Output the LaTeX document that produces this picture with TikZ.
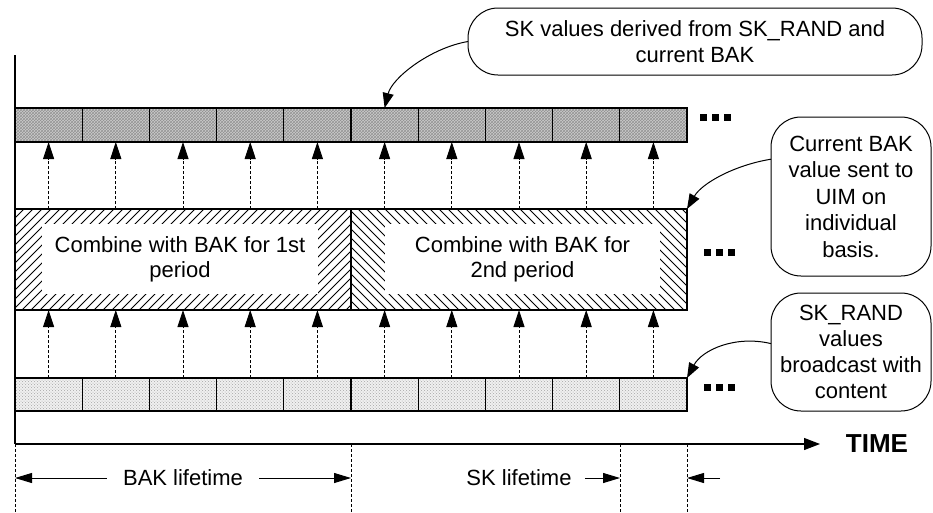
\documentclass[tikz,border=0pt]{standalone}
\usepackage{fontspec}
\setmainfont{Liberation Sans}
\usetikzlibrary{arrows.meta,patterns}
\begin{document}
\begin{tikzpicture}[x=1pt,y=-1pt,
  box/.style={draw,line width=1.1pt,outer sep=0pt,inner sep=0pt},
  skcell/.style={box,minimum width=67.2pt,minimum height=34pt,preaction={fill=gray!40},pattern=crosshatch,pattern color=gray!85},
  srcell/.style={box,minimum width=67.2pt,minimum height=33pt,preaction={fill=gray!12},pattern=crosshatch dots,pattern color=gray!70},
  bakbox/.style={box,minimum width=336pt,minimum height=101pt},
  hatch/.style={line width=1pt},
  txt/.style={font=\fontsize{22}{25}\selectfont,align=center,inner sep=0pt},
  inner/.style={txt,fill=white,minimum width=276pt,minimum height=70pt},
  callout/.style={draw,line width=1pt,rounded corners=30pt,outer sep=0pt,inner sep=0pt,align=center,font=\fontsize{22}{26}\selectfont},
  uparrow/.style={line width=0.9pt,dash pattern=on 3pt off 2pt,-{Triangle[length=17pt,width=11pt]}},
  curvearrow/.style={line width=1pt,-{Triangle[length=15pt,width=11pt]}},
  axis/.style={line width=1.2pt},
  dimdash/.style={line width=0.9pt,dash pattern=on 3pt off 2pt},
  dimarrow/.style={line width=1pt,-{Triangle[length=17pt,width=10pt]}},
  lbl/.style={font=\fontsize{22}{25}\selectfont,inner ysep=0pt}
]
\useasboundingbox (0,0) rectangle (933,512);

% axes
\coordinate (ytop) at (15,55);
\coordinate (o) at (15,444);
\coordinate (xend) at (820,444);
\draw[axis] (ytop) -- (o);
\draw[axis,-{Triangle[length=16pt,width=12pt]}] (o) -- (xend);
\node[font=\fontsize{26}{30}\selectfont\bfseries] (time) at (877,444) {TIME};

% rows of cells
\foreach \i in {1,...,10}{
  \node[skcell] (sk\i) at ({15+67.2*(\i-0.5)},125) {};
  \node[srcell] (sr\i) at ({15+67.2*(\i-0.5)},394.5) {};
}

% BAK boxes: hatching
\begin{scope}
  \clip (15,209) rectangle (351,310);
  \foreach \x in {-95,-86,...,355}{
    \draw[hatch] (\x,310) -- ++(101,-101);
  }
\end{scope}
\begin{scope}
  \clip (351,209) rectangle (687,310);
  \foreach \x in {250,259,...,700}{
    \draw[hatch] (\x,209) -- ++(101,101);
  }
\end{scope}
\node[inner] (bt1) at (180,259) {Combine with BAK for 1st\\period};
\node[inner,minimum width=275pt] (bt2) at (522.5,259) {Combine with BAK for\\2nd period};
\node[bakbox] (bak1) at (183,259.5) {};
\node[bakbox] (bak2) at (519,259.5) {};

% dashed arrows
\foreach \i in {1,...,10}{
  \draw[uparrow] (sk\i.south |- bak1.north) -- (sk\i.south);
  \draw[uparrow] (sr\i.north) -- (sr\i.north |- bak1.south);
}

% continuation dots
\foreach \x/\y in {700/117.5,704/252,704/387}{
  \foreach \dx in {0,12,24}{
    \fill (\x+\dx,\y-3.5) rectangle ++(7,7);
  }
}

% callouts
\node[callout,minimum width=454pt,minimum height=67pt] (c1) at (695,41.5) {SK values derived from SK\_RAND and\\current BAK};
\node[callout,minimum width=160pt,minimum height=159pt,font=\fontsize{22}{26.5}\selectfont] (c2) at (851,196.5) {Current BAK\\value sent to\\UIM on\\individual\\basis.};
\node[callout,minimum width=160pt,minimum height=118pt] (c3) at (851,352) {SK\_RAND\\values\\broadcast with\\content};

\draw[curvearrow] (c1.west) .. controls (430,48) and (392,78) .. (sk6.north);
\draw[curvearrow] (c2.155) .. controls (735,165) and (702,183) .. (bak2.north east);
\draw[curvearrow] (c3.174) .. controls (735,335) and (702,350) .. (sr10.north east);

% dimension lines
\coordinate (bot) at (0,512);
\coordinate (v1) at (15,444);
\coordinate (v2) at (351,444);
\coordinate (v3) at (620,444);
\coordinate (v4) at (687,444);
\foreach \v in {v1,v2,v3,v4}{
  \draw[dimdash] (\v) -- (\v |- bot);
}
\node[lbl,inner xsep=16pt] (bl) at (183,478) {BAK lifetime};
\draw[dimarrow] (bl.west) -- (bl.west -| v1);
\draw[dimarrow] (bl.east) -- (bl.east -| v2);
\node[lbl,inner xsep=13pt] (sl) at (519,478) {SK lifetime};
\draw[dimarrow] (sl.east) -- (sl.east -| v3);
\coordinate (a4) at (720,478);
\draw[dimarrow] (a4) -- (a4 -| v4);
\end{tikzpicture}
\end{document}
